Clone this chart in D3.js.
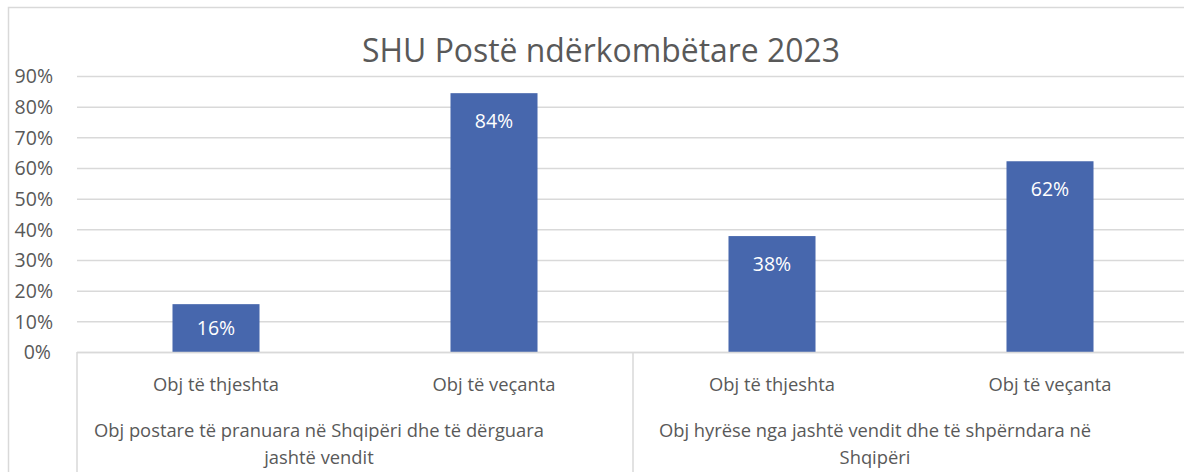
<!DOCTYPE html>
<html>
<head>
<meta charset="utf-8">
<script src="https://cdn.jsdelivr.net/npm/d3@7"></script>
<style>
  html, body { margin: 0; padding: 0; background: #fff; }
  svg { display: block; font-family: "Open Sans", "Noto Sans", sans-serif; }
</style>
</head>
<body>
<svg id="chart" width="1184" height="472"></svg>
<script>
// ---- data ----
const title = "SHU Postë ndërkombëtare 2023";
const groups = [
  ["Obj postare të pranuara në Shqipëri dhe të dërguara", "jashtë vendit"],
  ["Obj hyrëse nga jashtë vendit dhe të shpërndara në", "Shqipëri"]
];
const categories = ["Obj të thjeshta", "Obj të veçanta", "Obj të thjeshta", "Obj të veçanta"];
const categoryGroup = [0, 0, 1, 1];
const values = [0.156, 0.844, 0.378, 0.622];
const tickValues = [0, 0.1, 0.2, 0.3, 0.4, 0.5, 0.6, 0.7, 0.8, 0.9];

// ---- styles / layout ----
const textColor = "#595959";
const gridColor = "#D9D9D9";
const barColor = "#4767AD";
const plot = { left: 77, right: 1189, top: 76, bottom: 352 };

const svg = d3.select("#chart");

// fit helper: sets font-size so text width matches target width
function fit(sel, base, target) {
  sel.attr("font-size", base);
  const w = sel.node().getComputedTextLength();
  const fs = base * target / w;
  sel.attr("font-size", fs);
  return fs;
}

// outer chart border
svg.append("rect")
  .attr("x", 8.5).attr("y", 7.5)
  .attr("width", 1300).attr("height", 600)
  .attr("fill", "#fff").attr("stroke", gridColor).attr("stroke-width", 1.5);

// scales
const y = d3.scaleLinear().domain([0, 0.9]).range([plot.bottom, plot.top]);
const idx = d3.range(categories.length);
const x = d3.scaleBand().domain(idx).range([plot.left, plot.right]).padding(0);
const gx = d3.scaleBand().domain(d3.range(groups.length)).range([plot.left, plot.right]).padding(0);
const barW = x.bandwidth() * 0.313;

// title
const t = svg.append("text")
  .attr("x", 601).attr("y", 62)
  .attr("text-anchor", "middle")
  .attr("fill", textColor)
  .text(title);
fit(t, 28, 478);

// y axis gridlines + labels via d3 axis
const yAxis = d3.axisLeft(y)
  .tickValues(tickValues)
  .tickFormat(d3.format(".0%"))
  .tickSize(-(plot.right - plot.left))
  .tickPadding(24);
const ya = svg.append("g")
  .attr("transform", `translate(${plot.left},0)`)
  .call(yAxis);
ya.select(".domain").remove();
ya.selectAll(".tick line").attr("stroke", gridColor).attr("stroke-width", 1.5);
ya.selectAll(".tick text").attr("fill", textColor).attr("font-family", "Open Sans").attr("font-size", 19.5).attr("dy", "0.35em");
ya.selectAll(".tick").filter(d => d === 0).select("text").attr("dx", -2);

// bars
svg.append("g").selectAll("rect")
  .data(values)
  .join("rect")
  .attr("x", (d, i) => x(i) + x.bandwidth() / 2 - barW / 2)
  .attr("y", d => y(d))
  .attr("width", barW)
  .attr("height", d => y(0) - y(d))
  .attr("fill", barColor);

// data labels
svg.append("g").selectAll("text")
  .data(values)
  .join("text")
  .attr("x", (d, i) => x(i) + x.bandwidth() / 2)
  .attr("y", d => Math.min(y(d) + 35, (y(d) + y(0)) / 2 + 7))
  .attr("text-anchor", "middle")
  .attr("fill", "#fff")
  .attr("font-size", 19.5)
  .text(d => d3.format(".0%")(d));

// category axis line (baseline)
svg.append("line")
  .attr("x1", plot.left).attr("x2", plot.right)
  .attr("y1", y(0) + 0.5).attr("y2", y(0) + 0.5)
  .attr("stroke", gridColor).attr("stroke-width", 1.5);

// group separators
const seps = gx.domain().map(g => gx(g)).concat([plot.right]);
svg.append("g").selectAll("line")
  .data(seps)
  .join("line")
  .attr("x1", d => d).attr("x2", d => d)
  .attr("y1", y(0)).attr("y2", 480)
  .attr("stroke", gridColor).attr("stroke-width", 1.5);

// category labels
const cl = svg.append("g").selectAll("text")
  .data(categories)
  .join("text")
  .attr("x", (d, i) => x(i) + x.bandwidth() / 2)
  .attr("y", 391)
  .attr("text-anchor", "middle")
  .attr("fill", textColor)
  .text(d => d);
const cfs = fit(d3.select(cl.nodes()[0]), 18, 126);
cl.attr("font-size", cfs);

// group labels
const gl = svg.append("g").selectAll("g")
  .data(groups)
  .join("g");
gl.each(function(lines, gi) {
  const cx = gx(gi) + gx.bandwidth() / 2 - 36;
  d3.select(this).selectAll("text")
    .data(lines)
    .join("text")
    .attr("x", cx)
    .attr("y", (d, li) => 437 + li * 27)
    .attr("text-anchor", "middle")
    .attr("fill", textColor)
    .attr("font-size", cfs)
    .text(d => d);
});
</script>
</body>
</html>
